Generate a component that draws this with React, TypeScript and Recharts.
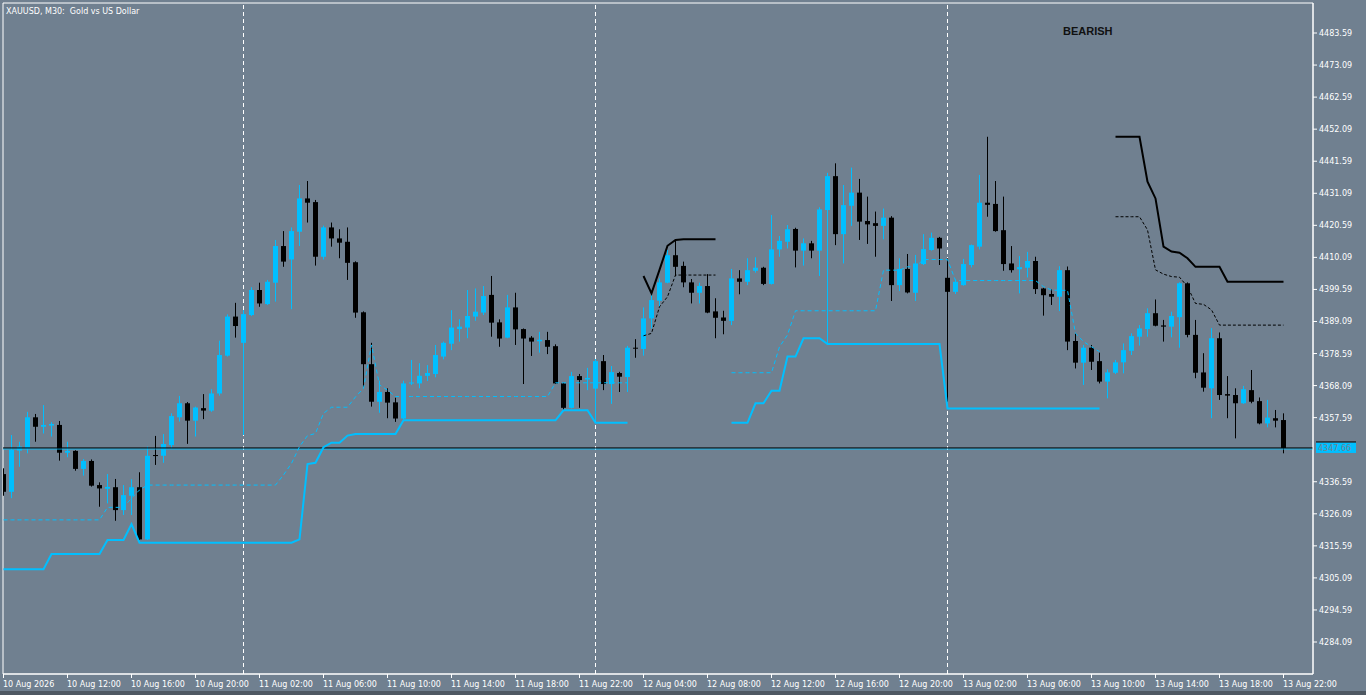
import React from "react"
import {
  ComposedChart,
  Bar,
  Line,
  XAxis,
  YAxis,
  ReferenceLine,
  ReferenceArea,
} from "recharts"

const BG = "#708090"
const BULL = "#00BFFF"
const BEAR = "#000000"
const FONT = "'DejaVu Sans', sans-serif"

const X_TICKS = [0, 8, 16, 24, 32, 40, 48, 56, 64, 72, 80, 88, 96, 104, 112, 120, 128, 136, 144, 152, 160]
const X_LABELS = [
  "10 Aug 2026", "10 Aug 12:00", "10 Aug 16:00", "10 Aug 20:00", "11 Aug 02:00",
  "11 Aug 06:00", "11 Aug 10:00", "11 Aug 14:00", "11 Aug 18:00", "11 Aug 22:00",
  "12 Aug 04:00", "12 Aug 08:00", "12 Aug 12:00", "12 Aug 16:00", "12 Aug 20:00",
  "13 Aug 02:00", "13 Aug 06:00", "13 Aug 10:00", "13 Aug 14:00", "13 Aug 18:00",
  "13 Aug 22:00",
]
const Y_TICKS = [
  4284.09, 4294.59, 4305.09, 4315.59, 4326.09, 4336.59, 4357.59, 4368.09, 4378.59,
  4389.09, 4399.59, 4410.09, 4420.59, 4431.09, 4441.59, 4452.09, 4462.59, 4473.09, 4483.59,
]
const Y_DOMAIN = [4273.61, 4493.42]
const X_DOMAIN = [-0.0625, 163.6875]
const DAY_STARTS = [30, 74, 118]

// M30 candles, 10 Aug 08:00 .. 13 Aug 22:00
const OPEN = [
  4339.1, 4333.3, 4346.8, 4347.5, 4357.7, 4354.6, 4355.0, 4355.2, 4346.1, 4346.7,
  4340.8, 4343.4, 4335.5, 4334.3, 4334.8, 4327.3, 4332.0, 4334.8, 4317.7, 4345.35,
  4345.1, 4348.6, 4357.7, 4362.3, 4356.6, 4360.7, 4359.9, 4365.5, 4377.9, 4390.7,
  4382.1, 4391.2, 4399.4, 4394.8, 4401.8, 4413.8, 4409.4, 4418.5, 4429.4, 4428.2,
  4410.3, 4419.9, 4416.3, 4415.2, 4408.5, 4392.1, 4375.1, 4362.8, 4366.0, 4362.6,
  4357.3, 4368.8, 4368.8, 4371.3, 4371.9, 4377.6, 4381.8, 4386.6, 4387.1, 4390.7,
  4392.0, 4397.8, 4388.8, 4383.8, 4393.7, 4386.6, 4383.8, 4382.6, 4383.0, 4381.0,
  4368.8, 4360.8, 4371.2, 4370.1, 4367.1, 4376.1, 4368.6, 4372.2, 4370.9, 4380.5,
  4380.1, 4390.1, 4395.9, 4401.8, 4410.8, 4407.3, 4401.9, 4398.5, 4400.7, 4392.4,
  4390.4, 4389.3, 4403.2, 4402.1, 4405.7, 4406.7, 4401.4, 4412.7, 4415.2, 4419.4,
  4412.3, 4414.7, 4412.3, 4425.6, 4436.7, 4417.7, 4427.0, 4431.3, 4422.0, 4421.3,
  4420.4, 4423.1, 4401.0, 4406.3, 4398.5, 4407.9, 4412.5, 4416.5, 4403.4, 4398.8,
  4401.0, 4407.6, 4413.6, 4428.0, 4427.6, 4419.0, 4408.1, 4406.2, 4406.7, 4408.9,
  4399.9, 4398.1, 4397.2, 4405.9, 4382.7, 4375.6, 4380.5, 4376.1, 4369.4, 4372.3,
  4375.7, 4379.5, 4384.1, 4386.6, 4391.8, 4387.8, 4387.4, 4390.5, 4401.6, 4384.7,
  4372.4, 4367.2, 4383.6, 4365.3, 4365.0, 4362.3, 4366.6, 4363.0, 4355.7, 4357.4,
  4356.8,
]
const HIGH = [
  4341.0, 4351.9, 4349.7, 4359.5, 4358.8, 4361.7, 4356.1, 4356.5, 4349.7, 4346.9,
  4344.0, 4343.9, 4336.4, 4339.1, 4337.5, 4335.5, 4337.4, 4339.7, 4348.1, 4351.6,
  4352.2, 4359.0, 4364.7, 4362.7, 4361.2, 4365.3, 4366.9, 4382.8, 4391.4, 4395.2,
  4392.8, 4400.3, 4401.8, 4402.7, 4415.8, 4418.7, 4419.9, 4433.8, 4435.1, 4428.9,
  4420.5, 4421.5, 4419.3, 4419.9, 4408.8, 4392.4, 4382.1, 4369.7, 4367.2, 4364.1,
  4369.7, 4376.5, 4375.4, 4374.8, 4381.4, 4382.5, 4392.8, 4389.8, 4399.4, 4399.9,
  4400.7, 4404.0, 4389.8, 4397.8, 4398.5, 4386.8, 4384.3, 4385.7, 4385.7, 4381.6,
  4369.0, 4372.6, 4371.9, 4373.9, 4376.8, 4378.1, 4374.5, 4372.6, 4381.1, 4383.3,
  4393.7, 4398.3, 4403.2, 4412.5, 4415.6, 4408.7, 4403.0, 4401.8, 4404.6, 4396.7,
  4392.6, 4406.3, 4405.9, 4409.8, 4410.1, 4407.0, 4424.0, 4417.1, 4420.7, 4419.8,
  4416.3, 4415.5, 4426.5, 4437.8, 4440.9, 4433.8, 4439.5, 4435.8, 4430.0, 4425.1,
  4426.1, 4423.6, 4409.8, 4411.2, 4410.9, 4417.7, 4418.2, 4416.8, 4409.8, 4402.9,
  4409.6, 4414.3, 4437.1, 4449.6, 4435.1, 4430.0, 4413.8, 4410.5, 4411.9, 4410.3,
  4400.1, 4399.6, 4407.2, 4407.1, 4385.2, 4381.4, 4381.4, 4378.9, 4373.4, 4376.5,
  4381.9, 4385.2, 4387.9, 4393.4, 4396.3, 4389.6, 4392.3, 4401.9, 4401.9, 4389.6,
  4378.7, 4386.9, 4385.5, 4371.2, 4367.2, 4368.0, 4373.2, 4364.2, 4363.4, 4360.1,
  4359.0,
]
const LOW = [
  4332.0, 4331.2, 4341.5, 4345.9, 4349.7, 4352.4, 4351.4, 4343.5, 4344.6, 4340.2,
  4338.6, 4335.0, 4328.4, 4329.5, 4323.8, 4325.7, 4325.7, 4317.5, 4317.5, 4342.1,
  4342.8, 4347.5, 4356.3, 4349.0, 4351.4, 4357.1, 4359.5, 4364.8, 4377.6, 4383.8,
  4351.9, 4390.9, 4393.9, 4394.5, 4395.6, 4407.0, 4393.1, 4413.8, 4421.5, 4407.4,
  4409.4, 4413.6, 4409.8, 4402.7, 4390.3, 4367.7, 4361.2, 4359.2, 4357.4, 4356.2,
  4357.0, 4368.3, 4367.2, 4369.6, 4370.8, 4376.7, 4379.7, 4382.5, 4383.6, 4389.3,
  4391.2, 4384.1, 4380.8, 4383.6, 4381.4, 4368.6, 4377.8, 4378.9, 4378.4, 4368.6,
  4360.0, 4360.6, 4360.8, 4366.6, 4356.3, 4366.6, 4362.1, 4366.0, 4366.0, 4377.2,
  4377.9, 4386.8, 4393.9, 4401.6, 4404.0, 4400.3, 4395.0, 4395.0, 4391.8, 4383.6,
  4384.9, 4387.9, 4398.0, 4401.0, 4405.1, 4401.0, 4401.2, 4410.3, 4413.0, 4406.8,
  4407.4, 4409.8, 4404.0, 4381.9, 4414.1, 4408.1, 4420.4, 4415.8, 4414.5, 4410.3,
  4416.0, 4395.8, 4399.1, 4398.3, 4395.8, 4407.6, 4412.3, 4407.6, 4362.8, 4398.1,
  4400.8, 4406.8, 4412.7, 4423.4, 4418.5, 4405.7, 4405.1, 4398.3, 4403.5, 4398.1,
  4391.0, 4394.5, 4392.5, 4379.7, 4373.7, 4368.3, 4373.2, 4368.8, 4363.9, 4371.9,
  4372.1, 4378.1, 4381.2, 4384.1, 4387.5, 4382.5, 4383.9, 4380.5, 4383.9, 4370.5,
  4366.1, 4357.4, 4363.4, 4357.4, 4350.8, 4362.1, 4362.3, 4355.4, 4354.4, 4354.4,
  4345.9,
]
const CLOSE = [
  4333.3, 4347.0, 4348.1, 4357.7, 4354.6, 4355.2, 4355.5, 4346.1, 4346.7, 4340.8,
  4343.4, 4335.3, 4334.4, 4334.9, 4327.3, 4332.2, 4334.8, 4317.7, 4345.1, 4345.0,
  4348.95, 4358.1, 4362.3, 4356.6, 4360.9, 4359.9, 4365.5, 4378.1, 4390.7, 4387.6,
  4391.5, 4399.4, 4395.0, 4402.1, 4413.8, 4408.7, 4418.7, 4429.4, 4428.0, 4410.3,
  4419.9, 4416.3, 4414.9, 4408.3, 4392.0, 4375.1, 4362.8, 4366.0, 4362.5, 4357.3,
  4368.8, 4369.1, 4371.3, 4372.2, 4378.1, 4382.1, 4387.1, 4387.4, 4390.9, 4392.3,
  4397.4, 4388.7, 4383.5, 4393.7, 4386.5, 4383.5, 4382.5, 4383.1, 4380.8, 4368.8,
  4360.8, 4371.2, 4369.9, 4370.6, 4376.1, 4368.6, 4372.5, 4371.0, 4380.5, 4380.2,
  4390.1, 4396.1, 4401.9, 4410.8, 4407.0, 4401.9, 4398.5, 4400.7, 4392.0, 4390.3,
  4389.3, 4403.2, 4402.1, 4405.9, 4406.7, 4401.4, 4412.7, 4415.5, 4419.3, 4412.3,
  4414.7, 4412.3, 4425.8, 4436.7, 4417.7, 4427.2, 4431.3, 4421.8, 4420.9, 4420.4,
  4423.1, 4401.0, 4406.3, 4398.6, 4408.1, 4412.8, 4416.5, 4413.0, 4398.8, 4402.1,
  4407.9, 4414.1, 4428.0, 4427.3, 4418.7, 4407.9, 4405.9, 4406.9, 4408.9, 4399.7,
  4397.7, 4397.2, 4405.9, 4382.5, 4375.6, 4380.5, 4375.9, 4369.4, 4372.4, 4375.7,
  4379.7, 4384.3, 4386.8, 4391.8, 4387.7, 4387.4, 4390.9, 4401.6, 4384.7, 4372.3,
  4367.4, 4383.6, 4365.0, 4364.8, 4362.3, 4366.9, 4362.8, 4355.7, 4357.6, 4356.6,
  4347.66,
]

// indicator lines, drawn in pieces: [first bar, values]
const SUP_A_START = 0
const SUP_A = [
  4307.9, 4307.9, 4307.9, 4307.9, 4307.9, 4307.9, 4312.9, 4312.9, 4312.9, 4312.9,
  4312.9, 4312.9, 4312.9, 4317.5, 4317.5, 4317.5, 4322.7, 4316.6, 4316.6, 4316.6,
  4316.6, 4316.6, 4316.6, 4316.6, 4316.6, 4316.6, 4316.6, 4316.6, 4316.6, 4316.6,
  4316.6, 4316.6, 4316.6, 4316.6, 4316.6, 4316.6, 4316.6, 4317.7, 4342.4, 4342.8,
  4347.9, 4349.4, 4349.4, 4351.7, 4352.2, 4352.2, 4352.2, 4352.2, 4352.2, 4352.2,
  4356.7, 4356.7, 4356.7, 4356.7, 4356.7, 4356.7, 4356.7, 4356.7, 4356.7, 4356.7,
  4356.7, 4356.7, 4356.7, 4356.7, 4356.7, 4356.7, 4356.7, 4356.7, 4356.7, 4356.7,
  4360.0, 4360.0, 4360.0, 4360.0, 4355.9, 4355.9, 4355.9, 4355.9, 4355.9,
]
const SUP_B_START = 91
const SUP_B = [
  4355.9, 4355.9, 4355.9, 4362.3, 4362.3, 4366.4, 4366.4, 4377.6, 4377.6, 4383.6,
  4383.6, 4383.6, 4381.7, 4381.7, 4381.7, 4381.7, 4381.7, 4381.7, 4381.7, 4381.7,
  4381.7, 4381.7, 4381.7, 4381.7, 4381.7, 4381.7, 4381.7, 4360.6, 4360.6, 4360.6,
  4360.6, 4360.6, 4360.6, 4360.6, 4360.6, 4360.6, 4360.6, 4360.6, 4360.6, 4360.6,
  4360.6, 4360.6, 4360.6, 4360.6, 4360.6, 4360.6, 4360.6,
]
const SUPD_A_START = 0
const SUPD_A = [
  4324.1, 4324.1, 4324.1, 4324.1, 4324.1, 4324.1, 4324.1, 4324.1, 4324.1, 4324.1,
  4324.1, 4324.1, 4324.1, 4328.2, 4328.2, 4328.2, 4331.2, 4333.9, 4335.5, 4335.5,
  4335.5, 4335.5, 4335.5, 4335.5, 4335.5, 4335.5, 4335.5, 4335.5, 4335.5, 4335.5,
  4335.5, 4335.5, 4335.5, 4335.5, 4335.5, 4338.8, 4342.6, 4348.1, 4351.7, 4352.4,
  4359.0, 4361.0, 4361.0, 4361.0, 4364.4, 4367.2, 4381.4, 4368.3, 4366.6, 4364.5,
  4364.5, 4364.5, 4364.5, 4364.5, 4364.5, 4364.5, 4364.5, 4364.5, 4364.5, 4364.5,
  4364.5, 4364.5, 4364.5, 4364.5, 4364.5, 4364.5, 4364.5, 4364.5, 4364.5, 4369.0,
  4369.0, 4369.0, 4369.0, 4369.0, 4369.0, 4369.0, 4369.0, 4369.0, 4369.0,
]
const SUPD_B_START = 91
const SUPD_B = [
  4372.3, 4372.3, 4372.3, 4372.3, 4372.3, 4372.3, 4380.8, 4384.7, 4392.6, 4392.6,
  4392.6, 4392.6, 4392.6, 4392.6, 4392.6, 4392.6, 4392.6, 4392.6, 4392.6, 4405.9,
  4405.9, 4405.9, 4407.0, 4407.0, 4409.4, 4409.4, 4409.4, 4409.4, 4402.5, 4402.5,
  4402.5, 4402.5, 4402.5, 4402.5, 4402.5, 4402.5, 4402.5, 4402.5, 4402.5, 4400.5,
  4399.4, 4399.3, 4399.3, 4385.2, 4382.5, 4380.8, 4379.2,
]
const RES_A_START = 80
const RES_A = [4404.0, 4398.3, 4406.0, 4413.9, 4415.8, 4416.0, 4416.0, 4416.0, 4416.0, 4416.0]
const RES_B_START = 139
const RES_B = [
  4449.6, 4449.6, 4449.6, 4449.6, 4434.9, 4429.4, 4413.6, 4412.0, 4411.6, 4409.8,
  4407.0, 4407.0, 4407.0, 4407.0, 4402.1, 4402.1, 4402.1, 4402.1, 4402.1, 4402.1,
  4402.1, 4402.1,
]
const RESD_A_START = 80
const RESD_A = [4384.4, 4385.2, 4393.9, 4397.2, 4404.3, 4404.3, 4404.3, 4404.3, 4404.3, 4404.3]
const RESD_B_START = 139
const RESD_B = [
  4423.4, 4423.4, 4423.4, 4423.4, 4419.1, 4406.0, 4404.6, 4403.8, 4403.6, 4400.5,
  4395.0, 4394.7, 4392.9, 4387.9, 4387.9, 4387.9, 4387.9, 4387.9, 4387.9, 4387.9,
  4387.9, 4387.9,
]

const pick = (i: number, parts: Array<[number, number[]]>) => {
  for (const [start, vals] of parts) {
    if (i >= start && i < start + vals.length) return vals[i - start]
  }
  return null
}

const LAST = CLOSE[CLOSE.length - 1]

const data = OPEN.map((open, i) => ({
  i,
  open,
  high: HIGH[i],
  low: LOW[i],
  close: CLOSE[i],
  range: [LOW[i], HIGH[i]],
  sup: pick(i, [[SUP_A_START, SUP_A], [SUP_B_START, SUP_B]]),
  supD: pick(i, [[SUPD_A_START, SUPD_A], [SUPD_B_START, SUPD_B]]),
  res: pick(i, [[RES_A_START, RES_A], [RES_B_START, RES_B]]),
  resD: pick(i, [[RESD_A_START, RESD_A], [RESD_B_START, RESD_B]]),
}))

function Candle(props: any) {
  const { x, y, width, height, payload } = props
  if (x == null || y == null || !payload) return null
  const { open, close, high, low } = payload
  const top = Math.min(y, y + height)
  const h = Math.abs(height)
  const k = high === low ? 0 : h / (high - low)
  const cx = Math.floor(x + width / 2) + 0.5
  const yo = top + (high - open) * k
  const yc = top + (high - close) * k
  const color = close >= open ? BULL : BEAR
  const bodyTop = Math.min(yo, yc)
  const bodyH = Math.max(Math.abs(yo - yc), 1)
  return (
    <g>
      <line x1={cx} x2={cx} y1={top} y2={top + h} stroke={color} strokeWidth={1} />
      <rect x={cx - 2.5} y={bodyTop} width={5} height={bodyH} fill={color} />
    </g>
  )
}

function XTick(props: any) {
  const { x, y, payload } = props
  const label = X_LABELS[X_TICKS.indexOf(payload.value)]
  return (
    <text x={x - 0.5} y={y} dy={8.5} textAnchor="start" fill="#fff" fontSize={8} fontFamily={FONT}>
      {label}
    </text>
  )
}

function YTick(props: any) {
  const { x, y, payload } = props
  return (
    <text x={x} y={y} dy={3} textAnchor="start" fill="#fff" fontSize={8} fontFamily={FONT}>
      {Number(payload.value).toFixed(2)}
    </text>
  )
}

function PriceTag(props: any) {
  const vb = props.viewBox
  if (!vb) return null
  const ly = vb.y
  const rx = vb.x + vb.width + 3
  return (
    <g>
      <rect x={rx} y={ly - 5.5} width={40} height={10.5} fill={BULL} />
      <line x1={rx} x2={rx + 40} y1={ly - 6} y2={ly - 6} stroke="#000" />
      <text x={rx + 2} y={ly + 3} fill={BG} fontSize={8} fontFamily={FONT}>
        {LAST.toFixed(2)}
      </text>
    </g>
  )
}

export default function App() {
  return (
    <div
      style={{
        position: "absolute",
        left: 0,
        top: 0,
        width: 1366,
        height: 695,
        background: BG,
        overflow: "hidden",
      }}
    >
      <ComposedChart
        width={1366}
        height={695}
        data={data}
        margin={{ top: 3, right: 0, bottom: 0, left: 3 }}
      >
        <XAxis
          dataKey="i"
          type="number"
          domain={X_DOMAIN}
          ticks={X_TICKS}
          interval={0}
          allowDataOverflow
          height={21}
          tickSize={4}
          tickMargin={0}
          stroke="#fff"
          tick={<XTick />}
        />
        <YAxis
          orientation="right"
          type="number"
          domain={Y_DOMAIN}
          ticks={Y_TICKS}
          interval={0}
          allowDataOverflow
          width={53}
          tickSize={4}
          tickMargin={2}
          stroke="#fff"
          tick={<YTick />}
        />
        <ReferenceArea
          x1={X_DOMAIN[0]}
          x2={X_DOMAIN[1]}
          y1={Y_DOMAIN[0]}
          y2={Y_DOMAIN[1]}
          fill="none"
          stroke="#fff"
          ifOverflow="visible"
        />
        {DAY_STARTS.map((d) => (
          <ReferenceLine key={d} x={d} stroke="#fff" strokeDasharray="4 3" zIndex={50} />
        ))}
        <ReferenceLine y={LAST - 0.33} stroke={BULL} />
        <ReferenceLine y={LAST} stroke="#000" label={PriceTag} />
        <Line
          dataKey="supD"
          stroke={BULL}
          strokeWidth={1}
          strokeDasharray="4 3"
          dot={false}
          activeDot={false}
          isAnimationActive={false}
        />
        <Line
          dataKey="sup"
          stroke={BULL}
          strokeWidth={2}
          dot={false}
          activeDot={false}
          isAnimationActive={false}
        />
        <Line
          dataKey="resD"
          stroke="#000"
          strokeWidth={1}
          strokeDasharray="3 2"
          dot={false}
          activeDot={false}
          isAnimationActive={false}
        />
        <Line
          dataKey="res"
          stroke="#000"
          strokeWidth={2}
          dot={false}
          activeDot={false}
          isAnimationActive={false}
        />
        <Bar dataKey="range" barSize={6} shape={Candle} isAnimationActive={false} />
      </ComposedChart>
      <div
        style={{
          position: "absolute",
          left: 6,
          top: 7,
          fontFamily: FONT,
          fontSize: 8,
          lineHeight: "10px",
          color: "#fff",
          whiteSpace: "pre",
        }}
      >
        {"XAUUSD, M30:  Gold vs US Dollar"}
      </div>
      <div
        style={{
          position: "absolute",
          left: 1063,
          top: 25,
          fontFamily: "'Liberation Sans', Arial, sans-serif",
          fontWeight: "bold",
          fontSize: 11,
          lineHeight: "12px",
          color: "#111",
        }}
      >
        BEARISH
      </div>
      <div
        style={{
          position: "absolute",
          left: 0,
          top: 691,
          width: 1366,
          height: 4,
          background: "#4e5862",
        }}
      />
    </div>
  )
}
